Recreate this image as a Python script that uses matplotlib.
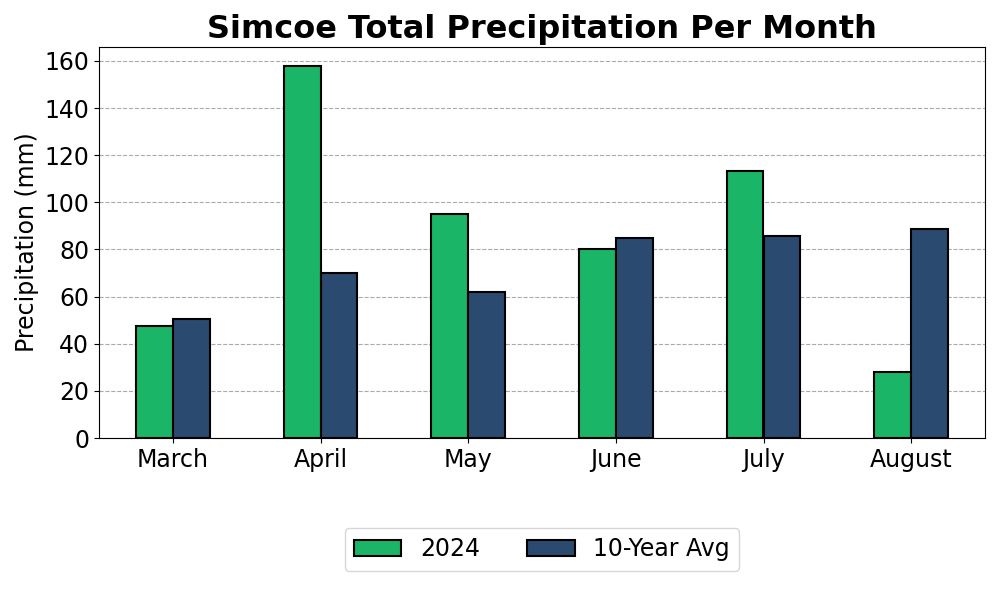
import numpy as np
import matplotlib.pyplot as plt

months = ['March', 'April', 'May', 'June', 'July', 'August']
precip_2024 = [47.6, 158.0, 95.2, 80.3, 113.5, 28.0]
precip_avg = [50.6, 70.0, 62.0, 85.0, 85.8, 88.8]

x = np.arange(len(months))
w = 0.25

fig, ax = plt.subplots(figsize=(10, 6), dpi=100)
ax.bar(x - w / 2, precip_2024, w, color='#1ab566', edgecolor='black', linewidth=1.5, label='2024', zorder=3)
ax.bar(x + w / 2, precip_avg, w, color='#2a4a6f', edgecolor='black', linewidth=1.5, label='10-Year Avg', zorder=3)

ax.set_xticks(x)
ax.set_xticklabels(months, fontsize=17)
ax.set_yticks(np.arange(0, 161, 20))
ax.tick_params(axis='y', labelsize=17)
ax.set_xlim(-0.5, len(months) - 0.5)
ax.set_ylim(0, 166)
ax.set_ylabel('Precipitation (mm)', fontsize=17)
ax.set_title('Simcoe Total Precipitation Per Month', fontsize=23, fontweight='bold')
ax.yaxis.grid(True, linestyle='--', color='#aaaaaa', linewidth=0.8, zorder=0)
ax.set_axisbelow(True)
ax.legend(loc='upper center', bbox_to_anchor=(0.5, -0.2), ncol=2, fontsize=17)

plt.subplots_adjust(left=0.099, right=0.985, top=0.922, bottom=0.27)
plt.savefig('out.png')
